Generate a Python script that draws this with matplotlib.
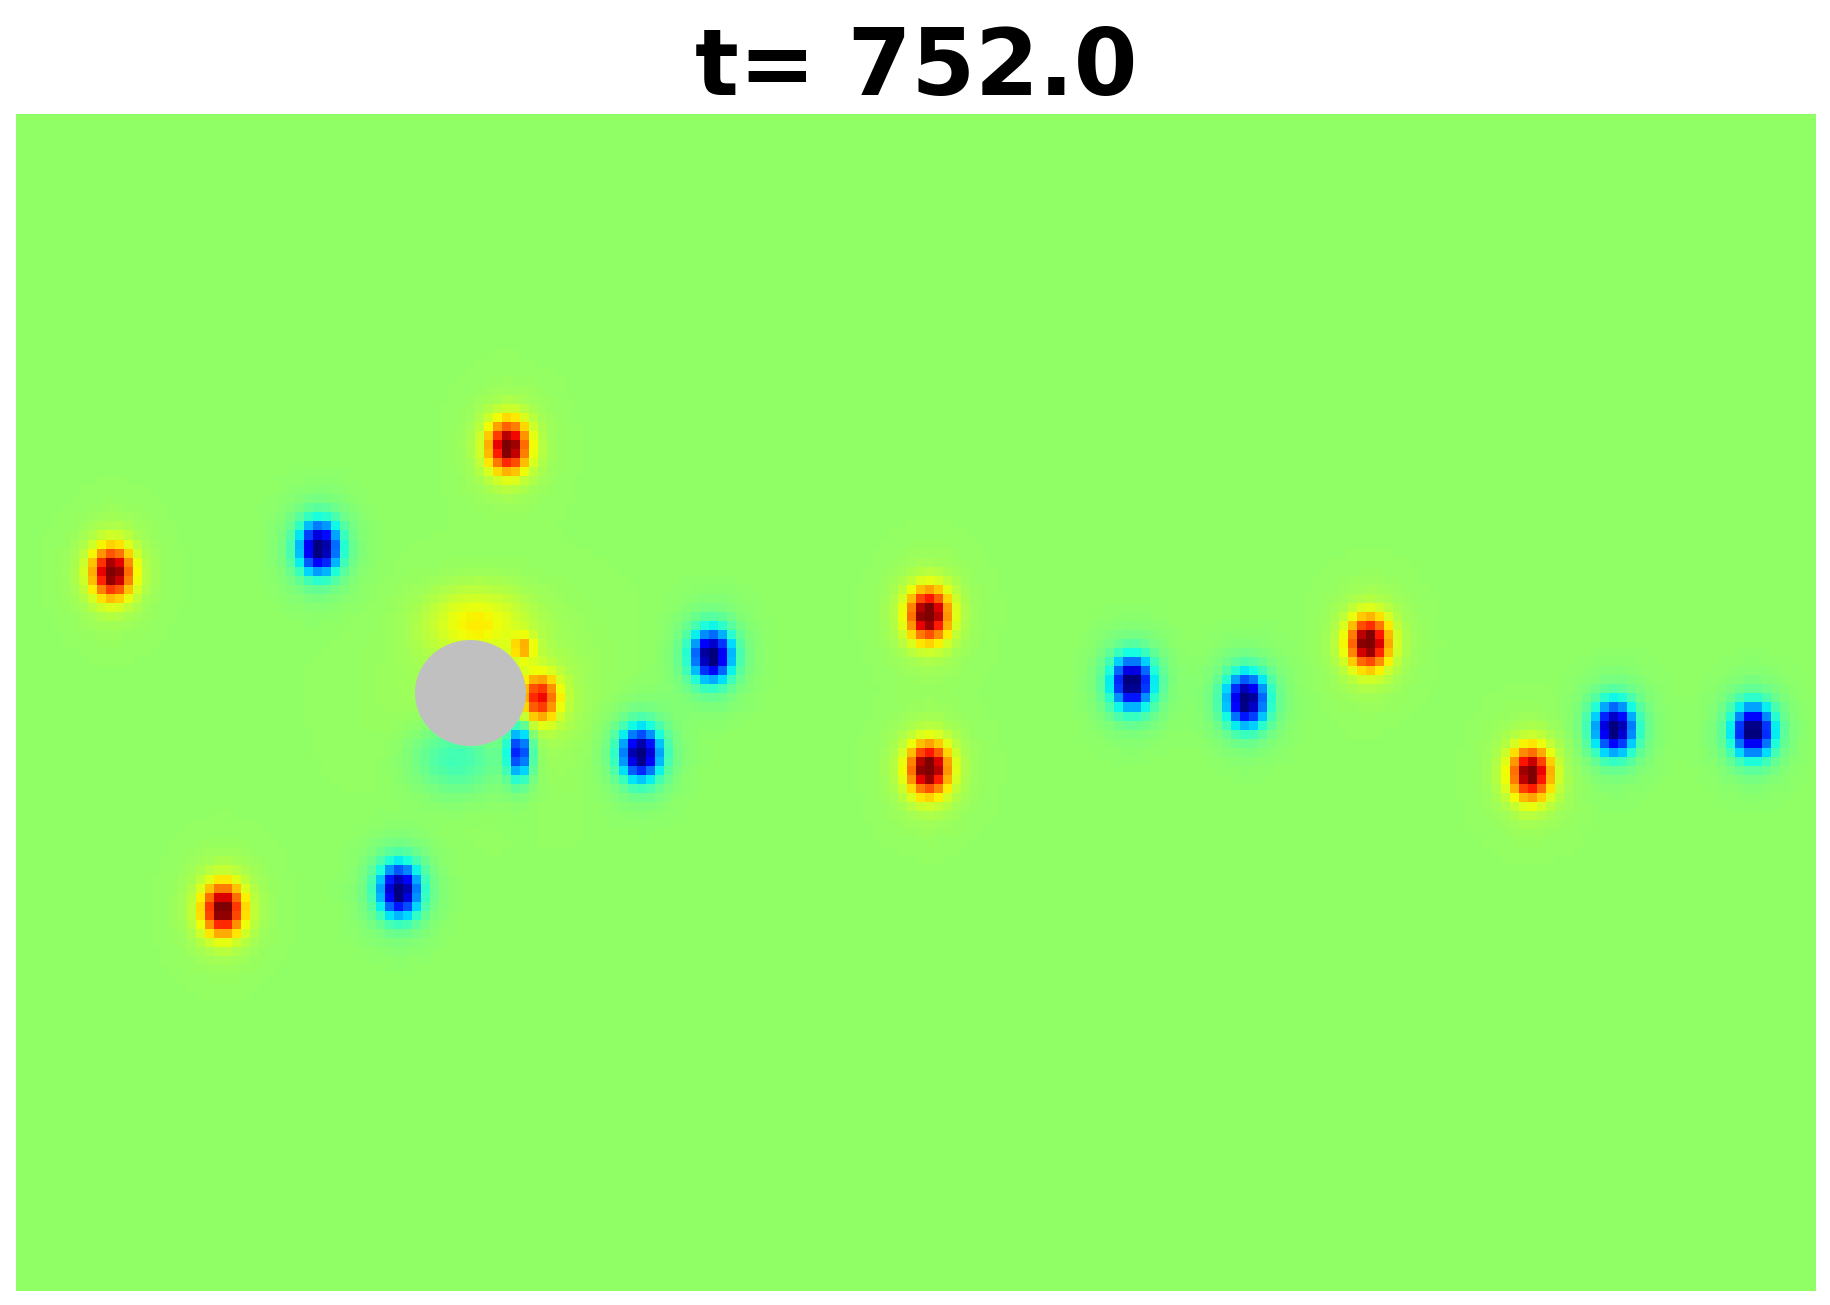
import numpy as np
import matplotlib
matplotlib.use("Agg")
import matplotlib.pyplot as plt
import matplotlib.patches as patches
from matplotlib.colors import Normalize

# grid size (cells) of the vorticity snapshot
nx, ny = 200, 130

# vortices: column, row (from top), strength, core widths in cells
vort_x = [10.7, 54.7, 23.0, 101.4, 101.4, 150.3, 168.3,
          33.7, 42.6, 77.3, 69.4, 124.0, 136.7, 177.6, 193.0,
          58.2, 56.4, 55.9, 51.2, 49.0, 53.0]
vort_y = [50.6, 36.7, 87.8, 55.3, 72.3, 58.4, 72.8,
          47.9, 85.7, 59.8, 70.6, 62.8, 64.7, 67.8, 68.1,
          64.5, 59.0, 70.4, 56.2, 71.0, 64.0]
vort_amp = [0.85, 0.85, 0.85, 0.9, 0.9, 0.88, 0.85,
            -0.95, -0.95, -0.95, -0.95, -0.95, -0.95, -0.95, -0.95,
            0.62, 0.30, -0.70, 0.22, -0.22, 0.06]
vort_sx = [1.5, 1.5, 1.5, 1.5, 1.5, 1.5, 1.5,
           1.5, 1.5, 1.5, 1.5, 1.5, 1.5, 1.5, 1.5,
           1.4, 0.9, 0.9, 3.8, 3.4, 8.0]
vort_sy = [1.9, 1.9, 1.9, 1.9, 1.9, 1.9, 1.9,
           1.9, 1.9, 1.9, 1.9, 1.9, 1.9, 1.9, 1.9,
           1.7, 1.0, 2.0, 2.6, 2.8, 7.0]
# faint outer glow around each vortex (fraction of strength)
halo = [0.14] * 15 + [0.1, 0.0, 0.1, 0.0, 0.0, 0.0]

# cylinder (cells)
cyl_x, cyl_y = 50.5, 63.95
cyl_rx, cyl_ry = 6.17, 5.85

t_now = 752.0

xc = np.arange(nx) + 0.5
yc = np.arange(ny) + 0.5
X, Y = np.meshgrid(xc, yc)
w = np.zeros((ny, nx))
for x0, y0, a, sx, sy, h in zip(vort_x, vort_y, vort_amp, vort_sx, vort_sy, halo):
    r2 = ((X - x0) / sx) ** 2 + ((Y - y0) / sy) ** 2
    w += a * np.exp(-r2 / 2)
    # weak tail just outside the core
    w += a * h * np.exp(-r2 / (2 * 1.9 ** 2))

fig = plt.figure(figsize=(18.3, 13.05), dpi=100)
ax = fig.add_axes([16 / 1830, 14 / 1305, 1800 / 1830, 1177 / 1305])
ax.imshow(w, cmap="jet", norm=Normalize(vmin=-1.0, vmax=0.9),
          interpolation="nearest", origin="upper",
          extent=[0, nx, ny, 0], aspect="auto")
ax.add_patch(patches.Ellipse((cyl_x, cyl_y), 2 * cyl_rx, 2 * cyl_ry,
                             facecolor="silver", edgecolor="none", zorder=3))
ax.set_xlim(0, nx)
ax.set_ylim(ny, 0)
ax.axis("off")
ax.set_title("t= %.1f" % t_now, fontsize=66, fontweight="bold", pad=13)

fig.savefig("out.png", dpi=100)
